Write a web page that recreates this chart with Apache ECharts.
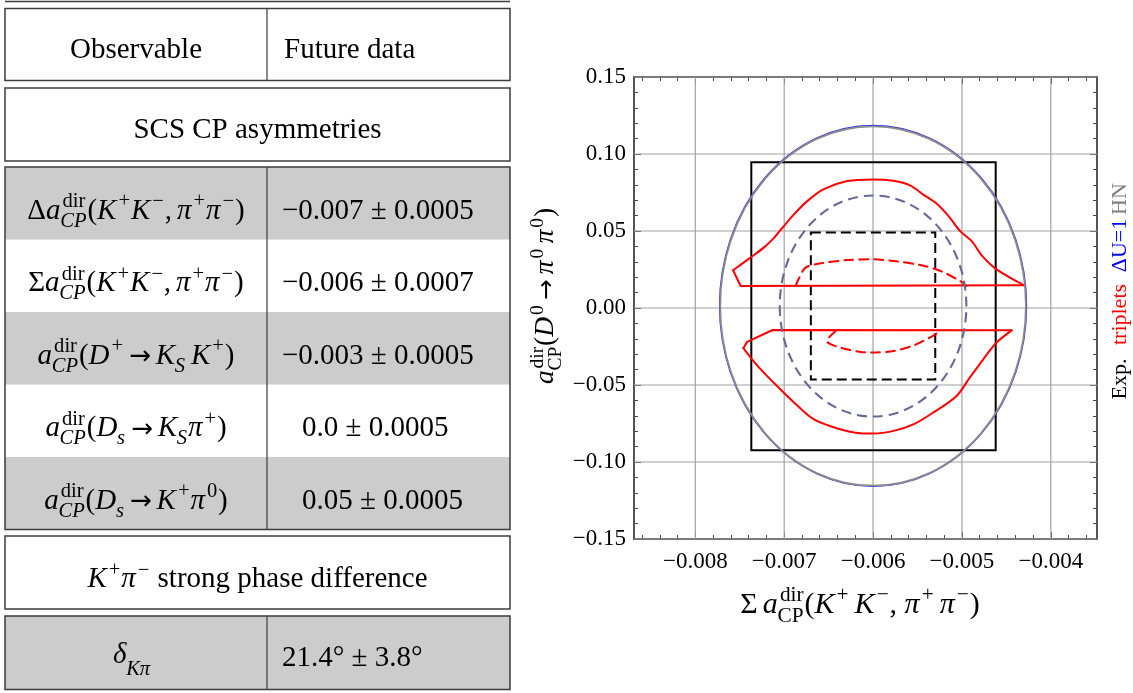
<!DOCTYPE html>
<html>
<head>
<meta charset="utf-8">
<script src="https://cdn.jsdelivr.net/npm/echarts@6/dist/echarts.min.js"></script>
<style>
  html, body { margin: 0; padding: 0; background: #ffffff; }
  #main { width: 1133px; height: 693px; }
</style>
</head>
<body>
<div id="main"></div>
<script>
// ---------------- table content ----------------
// math markup: tokens split by '|'; "x:i" italic, "^a" superscript, "_b" subscript,
// "^a_b" stacked sup/sub (":i" makes the subscript italic), "~" thin space
const tableHeader = ['Observable', 'Future data'];
const scsTitle = 'SCS CP asymmetries';
const observables = [
  'Δ|a:i|^dir_CP:i|(|K:i|^+|K:i|^−|,|~|π:i|^+|π:i|^−|)',
  'Σ|a:i|^dir_CP:i|(|K:i|^+|K:i|^−|,|~|π:i|^+|π:i|^−|)',
  'a:i|^dir_CP:i|(|D:i|^+|~|→|~|K:i|_S:i|~|K:i|^+|)',
  'a:i|^dir_CP:i|(|D:i|_s:i|~|→|~|K:i|_S:i|π:i|^+|)',
  'a:i|^dir_CP:i|(|D:i|_s:i|~|→|~|K:i|^+|π:i|^0|)'
];
const futureData = ['−0.007 ± 0.0005', '−0.006 ± 0.0007', '−0.003 ± 0.0005', '0.0 ± 0.0005', '0.05 ± 0.0005'];
const phaseTitle = 'K:i|^+|π:i|^−| strong phase difference';
const phaseObservable = 'δ:i|_Kπ:i';
const phaseData = '21.4° ± 3.8°';

// ---------------- plot content ----------------
const xRange = [-0.00869, -0.00348];
const yRange = [-0.15, 0.15];
const xMajorTicks = [-0.008, -0.007, -0.006, -0.005, -0.004];
const yMajorTicks = [-0.15, -0.10, -0.05, 0.00, 0.05, 0.10, 0.15];
const xTitle = 'Σ|~|a:i|^dir_CP|(|K:i|^+|~|K:i|^−|, |π:i|^+|~|π:i|^−|)';
const yTitle = 'a:i|^dir_CP|(|D:i|^0|~|→|~|π:i|^0|~|π:i|^0|)';
const legendWords = ['Exp.', 'triplets', 'ΔU=1', 'HN'];

// boxes: [xMin, xMax, yMin, yMax]
const expBox = [-0.00737, -0.00462, -0.0923, 0.0947];
const futureBox = [-0.0067, -0.0053, -0.0464, 0.0491];
// ellipses: [cx, cy, rx, ry]
const du1Ellipse = [-0.0060, 0.0014, 0.001728, 0.1172];
const hnEllipse = [-0.0060, 0.0013, 0.00172, 0.1167];
const hnFutureEllipse = [-0.0060, 0.0013, 0.00105, 0.0718];

// triplets region (solid) and its future version (dashed)
const tripletsUpperCurve = [
  [-0.007575, 0.0245], [-0.00738, 0.0327], [-0.00723, 0.0392], [-0.00712, 0.0452],
  [-0.00702, 0.0521], [-0.00689, 0.0608], [-0.00674, 0.0694], [-0.00656, 0.0770],
  [-0.00629, 0.0824], [-0.00600, 0.0835], [-0.00577, 0.0826], [-0.00558, 0.0795],
  [-0.00543, 0.0735], [-0.00528, 0.0676], [-0.00515, 0.0597], [-0.00502, 0.0499],
  [-0.00489, 0.0434], [-0.00477, 0.0337], [-0.00461, 0.0251], [-0.00430, 0.0147]
];
const tripletsUpperEdge = [[-0.00430, 0.0147], [-0.00749, 0.0143], [-0.007575, 0.0245]];
const tripletsLowerCurve = [
  [-0.00746, -0.0261], [-0.00730, -0.0376], [-0.00712, -0.0484], [-0.00689, -0.0613],
  [-0.00667, -0.0722], [-0.00640, -0.0782], [-0.00614, -0.0813], [-0.00600, -0.0815],
  [-0.00577, -0.0798], [-0.00554, -0.0754], [-0.00532, -0.0678], [-0.00506, -0.0571],
  [-0.00491, -0.0451], [-0.00476, -0.0333], [-0.00461, -0.0224], [-0.00444, -0.0145]
];
const tripletsLowerEdge = [[-0.00444, -0.0145], [-0.00713, -0.0143], [-0.007417, -0.0220], [-0.00746, -0.0261]];
const tripletsFutureUpper = [
  [-0.00687, 0.0147], [-0.00683, 0.0197], [-0.00676, 0.0262], [-0.00659, 0.0290],
  [-0.00629, 0.0311], [-0.00600, 0.0316], [-0.00577, 0.0305], [-0.00547, 0.0279],
  [-0.00524, 0.0240], [-0.00502, 0.0175], [-0.00495, 0.0143]
];
const tripletsFutureLower = [
  [-0.00642, -0.0150], [-0.00652, -0.0214], [-0.00637, -0.0257], [-0.00614, -0.0285],
  [-0.00600, -0.0289], [-0.00577, -0.0279], [-0.00554, -0.0242], [-0.00536, -0.0192],
  [-0.00527, -0.0160], [-0.00525, -0.0145]
];

// ---------------- text layout helpers ----------------
const SERIF = '"Liberation Serif", "Times New Roman", Times, serif';
const ARROW_FONT = '"DejaVu Sans", sans-serif';
const measureCtx = document.createElement('canvas').getContext('2d');
function fontOf(size, italic, family) { return (italic ? 'italic ' : '') + size.toFixed(2) + 'px ' + (family || SERIF); }
function textWidth(s, size, italic, family) { measureCtx.font = fontOf(size, italic, family); return measureCtx.measureText(s).width; }

function parseMath(src) {
  return src.split('|').map(tok => {
    let italic = false;
    if (tok.length > 2 && tok.endsWith(':i')) { italic = true; tok = tok.slice(0, -2); }
    if (tok === '~') return { space: 0.17 };
    const m = tok.match(/^\^([^_]*)_(.+)$/);
    if (m) return { sup: m[1], sub: m[2], italic };
    if (tok[0] === '^' && tok.length > 1) return { sup: tok.slice(1), italic: false };
    if (tok[0] === '_' && tok.length > 1) return { sub: tok.slice(1), italic };
    return { text: tok, italic };
  });
}

// one line of formula; group origin sits on the baseline at the anchor point
function mathGroup(src, opt) {
  const size = opt.size, small = size * 0.71, color = opt.color || '#000';
  const pieces = [];
  let x = 0, lastItalic = false;
  parseMath(src).forEach(t => {
    if (t.space) { x += t.space * size; lastItalic = false; return; }
    if (t.text != null) {
      const arrow = t.text === '→';
      const sz = arrow ? size * 0.9 : size;
      const fam = arrow ? ARROW_FONT : SERIF;
      const it = !arrow && t.italic;
      pieces.push([t.text, x, arrow ? 0.02 * size : 0, sz, it, fam]);
      x += textWidth(t.text, sz, it, fam);
      lastItalic = it;
      return;
    }
    let w = 0;
    if (t.sup != null) {
      const xs = x + (lastItalic ? 0.07 : 0.02) * size;
      pieces.push([t.sup, xs, -0.41 * size, small, false, SERIF]);
      w = Math.max(w, xs - x + textWidth(t.sup, small, false));
    }
    if (t.sub != null) {
      const xb = x + (lastItalic ? -0.01 : 0.01) * size;
      pieces.push([t.sub, xb, (opt.subDrop || 0.27) * size, small, t.italic, SERIF]);
      w = Math.max(w, xb - x + textWidth(t.sub, small, t.italic));
    }
    x += w + 0.03 * size;
    lastItalic = false;
  });
  const shift = opt.align === 'center' ? -x / 2 : 0;
  return {
    type: 'group', x: opt.x, y: opt.y, rotation: opt.rotation || 0, z: 20,
    children: pieces.map(p => ({
      type: 'text', x: p[1] + shift, y: p[2] - 0.32 * p[3], z: 20, silent: true,
      style: {
        text: p[0], font: fontOf(p[3], p[4], p[5]), fill: color,
        textAlign: 'left', textVerticalAlign: 'middle', align: 'left', verticalAlign: 'middle'
      }
    }))
  };
}

// ---------------- table drawing ----------------
const TL = 5, TR = 510, DIV = 267, LEFT_MID = 136, TABLE_MID = 257.5;
const LINE = '#3c3c3c', SHADE = '#cccccc';
const FS = 29;
const graphics = [];
function hline(y) {
  graphics.push({ type: 'line', z: 5, silent: true, shape: { x1: TL, y1: y, x2: TR, y2: y }, style: { stroke: LINE, lineWidth: 1.5 } });
}
function vline(x, y0, y1) {
  graphics.push({ type: 'line', z: 5, silent: true, shape: { x1: x, y1: y0, x2: x, y2: y1 }, style: { stroke: LINE, lineWidth: 1.2 } });
}
function cellFill(y0, y1, fill) {
  graphics.push({ type: 'rect', z: 1, silent: true, shape: { x: TL, y: y0, width: TR - TL, height: y1 - y0 }, style: { fill: fill, stroke: null } });
}
function frameBox(y0, y1) {
  graphics.push({ type: 'rect', z: 6, silent: true, shape: { x: TL, y: y0, width: TR - TL, height: y1 - y0 }, style: { fill: 'none', stroke: LINE, lineWidth: 1.5 } });
}

hline(1.5);
// header
frameBox(8.5, 80.5); vline(DIV, 8.5, 80.5);
graphics.push(mathGroup(tableHeader[0], { x: LEFT_MID, y: 60, size: FS, align: 'center' }));
graphics.push(mathGroup(tableHeader[1], { x: 284, y: 60, size: FS }));
// section title
frameBox(88, 161);
graphics.push(mathGroup(scsTitle, { x: TABLE_MID, y: 140, size: FS, align: 'center' }));
// observable rows
const blockTop = 167, blockBottom = 529.5, rowH = (blockBottom - blockTop) / observables.length;
const valueLeft = [282, 282, 282, 302, 302];
observables.forEach((src, i) => {
  const y0 = blockTop + i * rowH, mid = y0 + rowH / 2;
  if (i % 2 === 0) cellFill(y0, y0 + rowH, SHADE);
  graphics.push(mathGroup(src, { x: LEFT_MID, y: mid + 17, size: FS, align: 'center' }));
  graphics.push(mathGroup(futureData[i], { x: valueLeft[i], y: mid + 17, size: FS }));
});
frameBox(blockTop, blockBottom); vline(DIV, blockTop, blockBottom);
// strong phase section
frameBox(536, 609);
graphics.push(mathGroup(phaseTitle, { x: TABLE_MID, y: 589, size: FS, align: 'center' }));
cellFill(616, 689.5, SHADE);
frameBox(616, 689.5); vline(DIV, 616, 689.5);
graphics.push(mathGroup(phaseObservable, { x: 132, y: 665, size: FS, align: 'center', subDrop: 0.38 }));
graphics.push(mathGroup(phaseData, { x: 282, y: 668, size: FS }));

// ---------------- plot annotations ----------------
graphics.push(mathGroup(xTitle, { x: 860, y: 615, size: 30, align: 'center' }));
graphics.push(mathGroup(yTitle, { x: 555, y: 296, size: 27.5, align: 'center', rotation: Math.PI / 2 }));
const legendColors = ['#000000', '#ff0000', '#0000ff', '#808080'];
const legendCenters = [379, 314.5, 245.5, 199];
legendWords.forEach((w, i) => {
  graphics.push(mathGroup(w, { x: 1127, y: legendCenters[i], size: 22, align: 'center', rotation: Math.PI / 2, color: legendColors[i] }));
});

// ---------------- axes ----------------
const FRAME = '#4a4a4a';
const LABEL_FONT = 'Liberation Serif';
const minus = v => (v < 0 ? '\u2212' : '');
const xFmt = v => minus(v) + Math.abs(v).toFixed(3);
const yFmt = v => minus(v) + Math.abs(v).toFixed(2);
const xMinorTicks = [], yMinorTicks = [];
for (let k = -43; k <= -18; k++) xMinorTicks.push(+(k * 0.0002).toFixed(4));
for (let k = -14; k <= 14; k++) yMinorTicks.push(+(k * 0.01).toFixed(2));

function frameAxis(position, range, ticks, len, labelFmt, margin) {
  return {
    type: 'value', position, min: range[0], max: range[1],
    axisLine: { show: true, onZero: false, lineStyle: { color: FRAME, width: 1.5 } },
    axisTick: { show: true, inside: true, length: len, customValues: ticks, lineStyle: { color: FRAME, width: 1 } },
    axisLabel: labelFmt ? {
      show: true, customValues: ticks, formatter: labelFmt,
      fontFamily: LABEL_FONT, fontSize: 23, color: '#000', margin: margin
    } : { show: false },
    splitLine: { show: false }, minorTick: { show: false }, minorSplitLine: { show: false }
  };
}

// ---------------- series ----------------
const GRID_STYLE = { stroke: '#a2a2a2', lineWidth: 1.2 };
function gridSeries(values, vertical) {
  return {
    type: 'custom', coordinateSystem: 'cartesian2d', silent: true, z: 1,
    data: values.map(v => vertical ? [v, yRange[0]] : [xRange[0], v]),
    renderItem(params, api) {
      const a = vertical ? api.coord([api.value(0), yRange[0]]) : api.coord([xRange[0], api.value(1)]);
      const b = vertical ? api.coord([api.value(0), yRange[1]]) : api.coord([xRange[1], api.value(1)]);
      return { type: 'line', shape: { x1: a[0], y1: a[1], x2: b[0], y2: b[1] }, style: GRID_STYLE };
    }
  };
}
function boxSeries(b, dash) {
  return {
    type: 'custom', coordinateSystem: 'cartesian2d', silent: true, z: 3, data: [b],
    renderItem(params, api) {
      const p0 = api.coord([api.value(0), api.value(3)]);
      const p1 = api.coord([api.value(1), api.value(2)]);
      return {
        type: 'rect', shape: { x: p0[0], y: p0[1], width: p1[0] - p0[0], height: p1[1] - p0[1] },
        style: { fill: 'none', stroke: '#000', lineWidth: 2, lineDash: dash || null }
      };
    }
  };
}
function ellipseSeries(e, color, width, dash, z) {
  return {
    type: 'custom', coordinateSystem: 'cartesian2d', silent: true, z: z, data: [e],
    renderItem(params, api) {
      const c = api.coord([api.value(0), api.value(1)]);
      const s = api.size([api.value(2), api.value(3)]);
      const rx = s[0], ry = s[1];
      const d = 'M ' + (c[0] - rx) + ' ' + c[1] +
        ' A ' + rx + ' ' + ry + ' 0 1 0 ' + (c[0] + rx) + ' ' + c[1] +
        ' A ' + rx + ' ' + ry + ' 0 1 0 ' + (c[0] - rx) + ' ' + c[1] + ' Z';
      return { type: 'path', shape: { pathData: d }, style: { fill: 'none', stroke: color, lineWidth: width, lineDash: dash || null } };
    }
  };
}
function curveSeries(data, dashed, smooth) {
  return {
    type: 'line', data: data, symbol: 'none', showSymbol: false, silent: true, z: 4,
    smooth: smooth, lineStyle: { color: '#ff0000', width: 2, type: dashed ? [9, 6] : 'solid', cap: 'round', join: 'round' }
  };
}

const option = {
  animation: false,
  backgroundColor: '#ffffff',
  textStyle: { fontFamily: LABEL_FONT },
  grid: { left: 634, top: 77, width: 463, height: 462, containLabel: false },
  xAxis: [
    frameAxis('bottom', xRange, xMajorTicks, 7, xFmt, 11),
    frameAxis('bottom', xRange, xMinorTicks, 4, null),
    frameAxis('top', xRange, xMajorTicks, 7, null),
    frameAxis('top', xRange, xMinorTicks, 4, null)
  ],
  yAxis: [
    frameAxis('left', yRange, yMajorTicks, 7, yFmt, 8),
    frameAxis('left', yRange, yMinorTicks, 4, null),
    frameAxis('right', yRange, yMajorTicks, 7, null),
    frameAxis('right', yRange, yMinorTicks, 4, null)
  ],
  series: [
    gridSeries(xMajorTicks, true),
    gridSeries(yMajorTicks, false),
    boxSeries(expBox, null),
    boxSeries(futureBox, [10, 5]),
    curveSeries(tripletsUpperCurve, false, 0.3),
    curveSeries(tripletsUpperEdge, false, false),
    curveSeries(tripletsLowerCurve, false, 0.3),
    curveSeries(tripletsLowerEdge, false, false),
    curveSeries(tripletsFutureUpper, true, 0.3),
    curveSeries(tripletsFutureLower, true, 0.3),
    ellipseSeries(du1Ellipse, '#2a2aff', 1.2, null, 5),
    ellipseSeries(hnEllipse, '#8a8a8a', 1.8, null, 6),
    ellipseSeries(hnFutureEllipse, '#666a96', 2.1, [10, 6], 6)
  ],
  graphic: { elements: graphics }
};

const chart = echarts.init(document.getElementById('main'));
chart.setOption(option);
</script>
</body>
</html>
